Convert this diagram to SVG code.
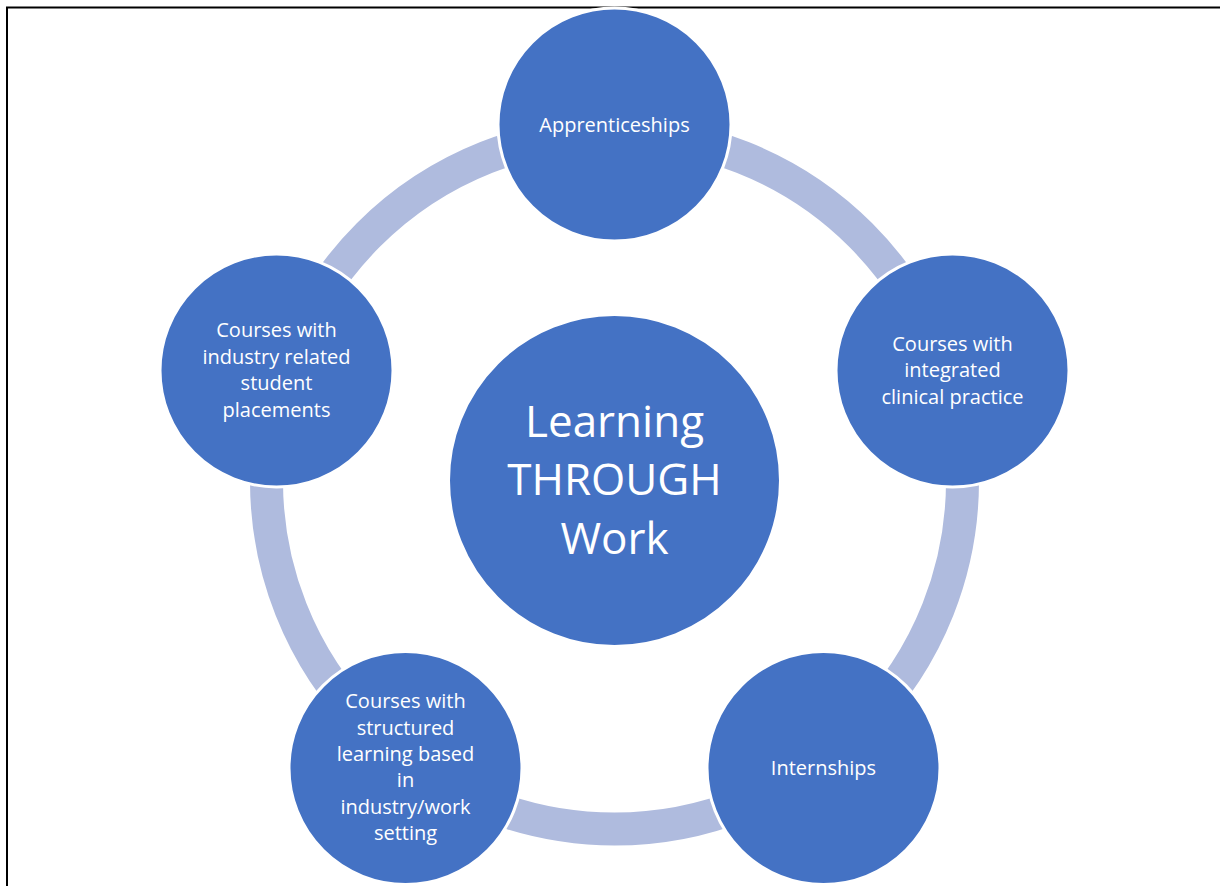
<svg xmlns="http://www.w3.org/2000/svg" width="1220" height="886" viewBox="0 0 1220 886">
<style>
.node{fill:#4472C4;stroke:#FFFFFF;stroke-width:3}
.lbl{font-family:"Open Sans","Liberation Sans",sans-serif;font-size:20px;fill:#FFFFFF;text-anchor:middle}
.big{font-family:"Open Sans","Liberation Sans",sans-serif;font-size:44px;fill:#FFFFFF;text-anchor:middle}
</style>
<rect width="1220" height="886" fill="#FFFFFF"/>
<path d="M7 886 V7.5 H1220" fill="none" stroke="#000000" stroke-width="2"/>
<g id="connectors">
<circle cx="614.5" cy="481" r="348" fill="none" stroke="#AFBBDE" stroke-width="33"/>
</g>
<g id="center">
<circle class="node" cx="614.5" cy="480.5" r="166"/>
<text class="big" x="614.5" y="436.7">Learning</text>
<text class="big" x="614.5" y="495.3">THROUGH</text>
<text class="big" x="614.5" y="554">Work</text>
</g>
<g id="apprenticeships">
<circle class="node" cx="614.5" cy="124.5" r="116.5"/>
<text class="lbl" x="614.5" y="131.7">Apprenticeships</text>
</g>
<g id="clinical">
<circle class="node" cx="952.5" cy="370.5" r="116.5"/>
<text class="lbl" x="952.5" y="350.5">Courses with</text>
<text class="lbl" x="952.5" y="377">integrated</text>
<text class="lbl" x="952.5" y="403.5">clinical practice</text>
</g>
<g id="internships">
<circle class="node" cx="823.5" cy="768" r="116.5"/>
<text class="lbl" x="823.5" y="775">Internships</text>
</g>
<g id="structured">
<circle class="node" cx="405.5" cy="768" r="116.5"/>
<text class="lbl" x="405.5" y="708.3">Courses with</text>
<text class="lbl" x="405.5" y="734.6">structured</text>
<text class="lbl" x="405.5" y="760.9">learning based</text>
<text class="lbl" x="405.5" y="787.2">in</text>
<text class="lbl" x="405.5" y="813.5">industry/work</text>
<text class="lbl" x="405.5" y="839.8">setting</text>
</g>
<g id="placements">
<circle class="node" cx="276.5" cy="370.5" r="116.5"/>
<text class="lbl" x="276.5" y="337.3">Courses with</text>
<text class="lbl" x="276.5" y="363.8">industry related</text>
<text class="lbl" x="276.5" y="390.3">student</text>
<text class="lbl" x="276.5" y="416.8">placements</text>
</g>
</svg>
